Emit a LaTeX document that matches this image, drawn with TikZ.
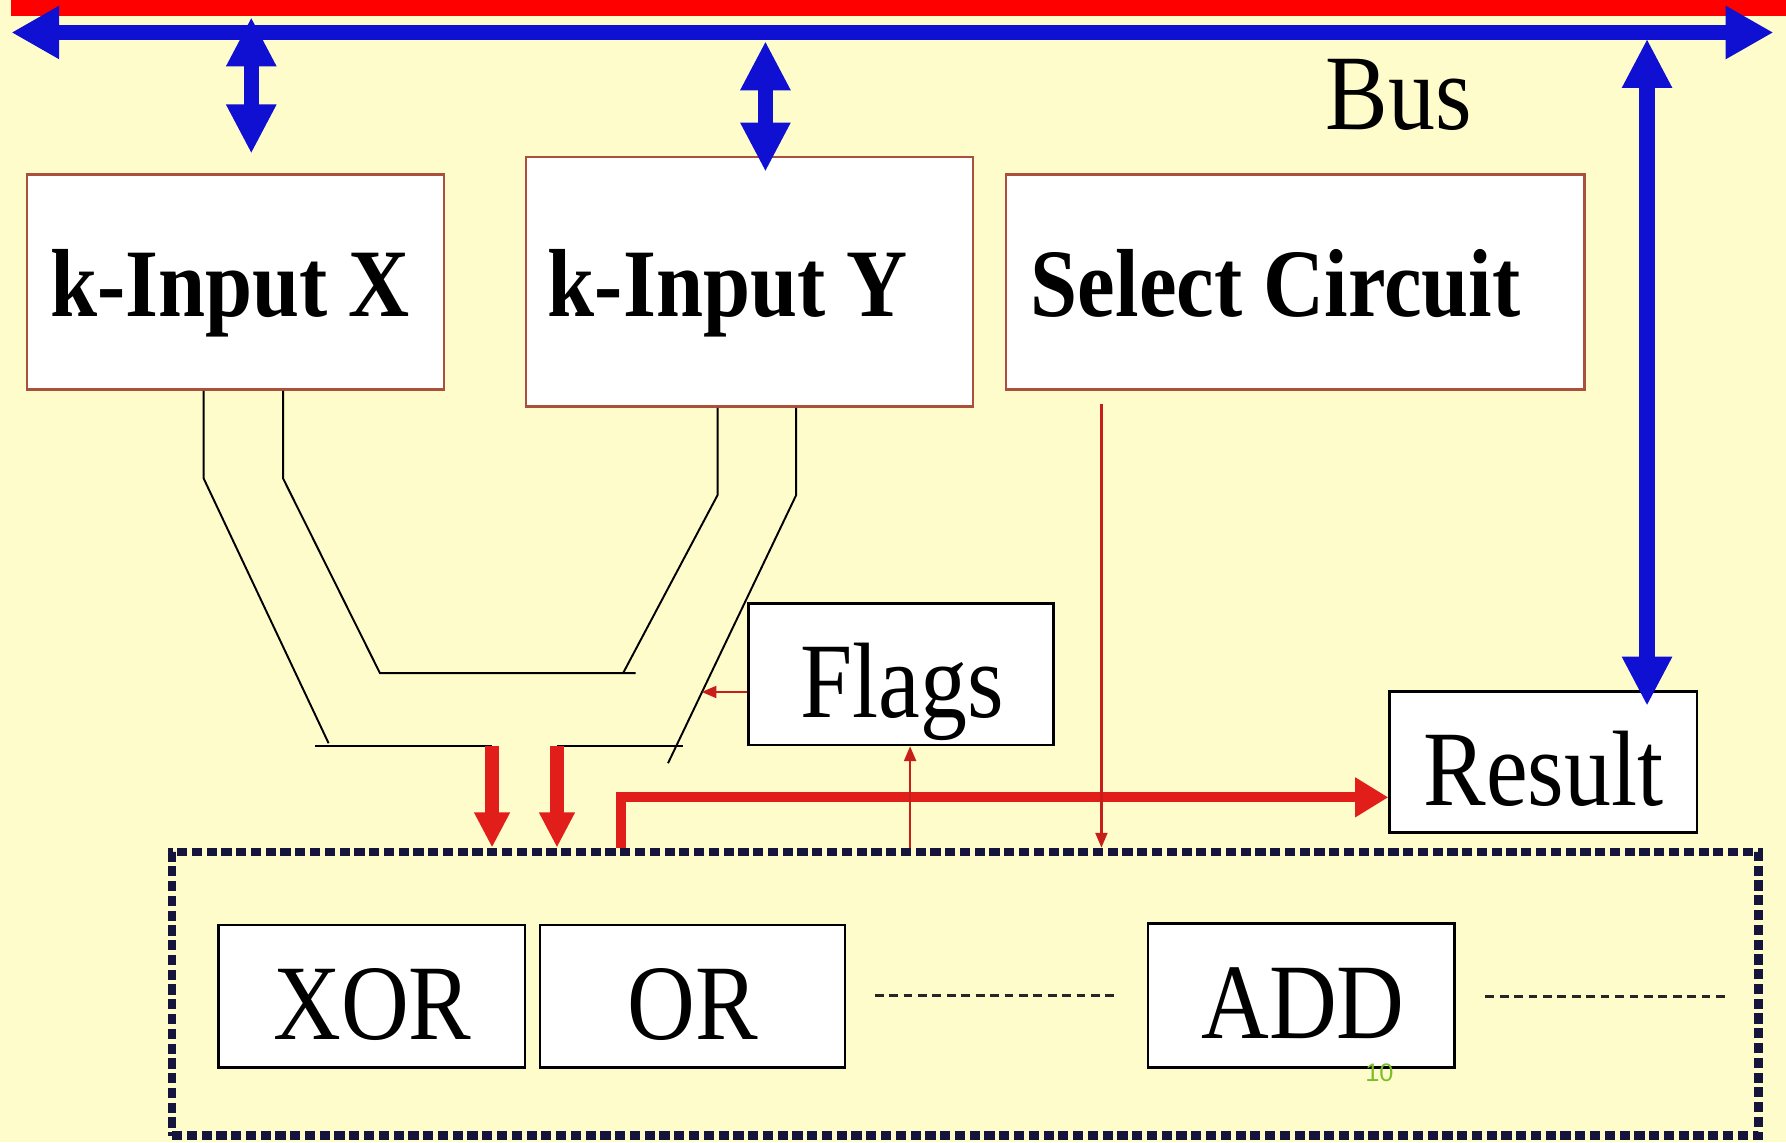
\documentclass[tikz,border=0pt]{standalone}
\usepackage{fontspec}
\setmainfont{Liberation Serif}
\newfontfamily\cond[FakeStretch=0.875]{Liberation Serif}
\newfontfamily\pgsans{Liberation Sans}
\usetikzlibrary{arrows.meta}
\definecolor{bgc}{RGB}{255,252,204}
\definecolor{busblue}{RGB}{16,16,210}
\definecolor{barred}{RGB}{255,0,0}
\definecolor{arred}{RGB}{225,30,25}
\definecolor{thinred}{RGB}{200,30,25}
\definecolor{kborder}{RGB}{170,80,60}
\definecolor{navyd}{RGB}{20,20,60}
\definecolor{pgreen}{RGB}{122,190,40}
\newcommand\uu{0.0113903cm}
\begin{document}
\begin{tikzpicture}[x=0.0113903cm, y=-0.0113903cm,
  kbox/.style={draw=kborder, line width=0.7pt, fill=white, inner sep=0pt, rectangle},
  wbox/.style={draw=black, line width=0.75pt, fill=white, inner sep=0pt, rectangle},
  alubox/.style={draw=navyd, line width=2.5pt, dash pattern=on 2.9pt off 1.3pt, inner sep=0pt, rectangle},
  btxt/.style={inner sep=0pt, anchor=base, font=\cond\bfseries\fontsize{27.5}{30}\selectfont},
  rtxt/.style={inner sep=0pt, anchor=base, font=\cond\fontsize{30.5}{33}\selectfont},
  wire/.style={draw=black, line width=0.55pt},
  busarr/.style={draw=busblue, line width=4.2pt, {Triangle[length=13.6pt,width=14.2pt]}-{Triangle[length=13.6pt,width=14.2pt]}},
  vblue/.style={draw=busblue, line width=4.4pt, {Triangle[length=14pt,width=13.3pt]}-{Triangle[length=14pt,width=13.3pt]}},
  redv/.style={draw=arred, line width=4pt, -{Triangle[length=10pt,width=9.5pt]}},
  redl/.style={draw=arred, line width=2.9pt, -{Triangle[length=9.4pt,width=10.7pt]}},
  redthin/.style={draw=thinred, line width=0.6pt, -{Triangle[length=4.2pt,width=3.4pt]}},
  fdash/.style={draw=black!85, line width=0.8pt, dash pattern=on 2.5pt off 1.6pt}
]
\useasboundingbox (0,0) rectangle (1568,1003);
\fill[bgc] (0,0) rectangle (1568,1003);
% red bar
\fill[barred] (10,0) rectangle (1568,14);

% boxes
\node[kbox, minimum width=366.5*\uu, minimum height=189*\uu] (kx) at (206.75,247.5) {};
\node[kbox, minimum width=392*\uu, minimum height=219*\uu] (ky) at (658,247.5) {};
\node[kbox, minimum width=508*\uu, minimum height=189*\uu] (sel) at (1137,247.5) {};
\node[wbox, minimum width=268*\uu, minimum height=124*\uu] (flags) at (791,592) {};
\node[wbox, minimum width=270*\uu, minimum height=124*\uu] (result) at (1355,669) {};
\node[alubox, minimum width=1393*\uu, minimum height=249*\uu] (alu) at (847.5,872.5) {};
\node[wbox, minimum width=269*\uu, minimum height=125*\uu] (xor) at (326.5,874.5) {};
\node[wbox, minimum width=268*\uu, minimum height=125*\uu] (or) at (608,874.5) {};
\node[wbox, minimum width=269*\uu, minimum height=126*\uu] (add) at (1142.5,874) {};

% texts
\node[btxt] (kxt) at (202,278) {k-Input X};
\node[btxt] (kyt) at (639,278) {k-Input Y};
\node[btxt] (selt) at (1120,278) {Select Circuit};
\node[rtxt] (bust) at (1228,114) {Bus};
\node[rtxt] (flagst) at (792,630) {Flags};
\node[rtxt] (resultt) at (1355,707) {Result};
\node[rtxt] (xort) at (327,913) {XOR};
\node[rtxt] (ort) at (608.5,913) {OR};
\node[rtxt] (addt) at (1144,912) {ADD};
\node[inner sep=0pt, text=pgreen, font=\pgsans\fontsize{7.2}{8}\selectfont] (pnum) at (1211,942) {10};

% dashed continuation lines
\draw[fdash] (768,874) -- (983,874);
\draw[fdash] (1304,875) -- (1517,875);

% coordinates
\coordinate (wxa) at (178.8,0);
\coordinate (wxb) at (248.5,0);
\coordinate (wya) at (630,0);
\coordinate (wyb) at (699,0);
\coordinate (ra) at (432,655);
\coordinate (rb) at (489,655);
\coordinate (rc) at (545,0);
\coordinate (rh) at (545,700);
\coordinate (rf) at (799,0);
\coordinate (rs) at (967,355);
\coordinate (fw) at (616,607.5);
\coordinate (busL) at (10,28.5);
\coordinate (busR) at (1557,28.5);
\coordinate (xtop) at (220.6,15);
\coordinate (ytop) at (672,36);
\coordinate (rtop) at (1446,34);

% black wires
\draw[wire] (kx.south -| wxa) -- (178.8,420) -- (288.5,652.5);
\draw[wire] (276.5,655) -- (ra);
\draw[wire] (kx.south -| wxb) -- (248.5,420) -- (333.6,591) -- (558,591);
\draw[wire] (ky.south -| wya) -- (630,434.6) -- (547,591);
\draw[wire] (ky.south -| wyb) -- (699,434.6) -- (586.5,670);
\draw[wire] (rb) -- (600,655);

% red arrows
\draw[redv] (ra) -- (ra |- alu.north);
\draw[redv] (rb) -- (rb |- alu.north);
\draw[redl] (rc |- alu.north) -- (rh) -- (rh -| result.west);
\draw[redthin] (rf |- alu.north) -- (rf |- flags.south);
\draw[redthin] (flags.west |- fw) -- (fw);
\draw[redthin] (rs) -- (rs |- alu.north);

% blue bus and arrows
\draw[busarr] (busL) -- (busR);
\draw[vblue, shorten >=5.5pt] (xtop) -- (xtop |- kx.north);
\draw[vblue, shorten >=-4.5pt] (ytop) -- (ytop |- ky.north);
\draw[vblue, shorten >=-4.5pt] (rtop) -- (rtop |- result.north);
\end{tikzpicture}
\end{document}
